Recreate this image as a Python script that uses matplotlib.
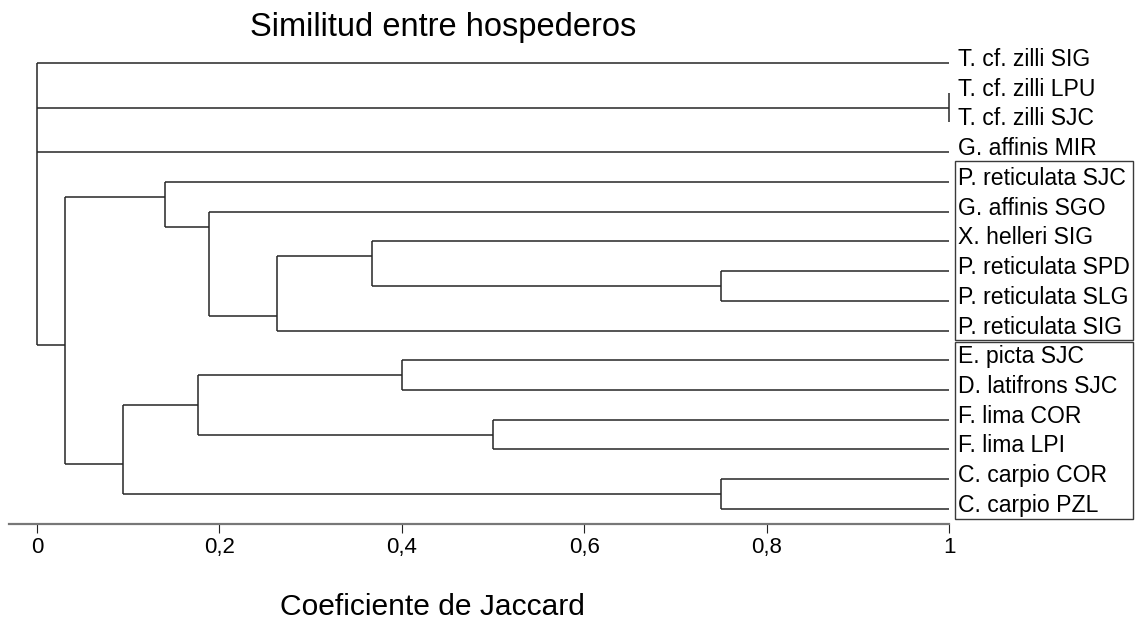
import matplotlib.pyplot as plt
from matplotlib.patches import Rectangle

plt.rcParams['font.family'] = ['Liberation Sans', 'DejaVu Sans']

# leaves, top to bottom
leaves = ['T. cf. zilli SIG', 'T. cf. zilli LPU', 'T. cf. zilli SJC', 'G. affinis MIR',
          'P. reticulata SJC', 'G. affinis SGO', 'X. helleri SIG', 'P. reticulata SPD',
          'P. reticulata SLG', 'P. reticulata SIG', 'E. picta SJC', 'D. latifrons SJC',
          'F. lima COR', 'F. lima LPI', 'C. carpio COR', 'C. carpio PZL']

# merges: (children ids, Jaccard similarity); leaves are 0..15, merges get 16, 17, ...
merges = [
    ((1, 2), 1.0),           # 16
    ((7, 8), 0.75),          # 17
    ((6, 17), 0.367),        # 18
    ((18, 9), 0.263),        # 19
    ((5, 19), 0.189),        # 20
    ((4, 20), 0.140),        # 21
    ((10, 11), 0.40),        # 22
    ((12, 13), 0.50),        # 23
    ((22, 23), 0.177),       # 24
    ((14, 15), 0.75),        # 25
    ((24, 25), 0.094),       # 26
    ((21, 26), 0.031),       # 27
    ((0, 16, 3, 27), 0.0),   # 28 root
]

# boxed groups (first leaf, last leaf)
groups = [(4, 9), (10, 15)]

xticks = [0, 0.2, 0.4, 0.6, 0.8, 1]
xticklabels = ['0', '0,2', '0,4', '0,6', '0,8', '1']

W, H = 1135, 619
x0_px, x1_px = 37, 949      # pixel of similarity 0 and 1
y0_px, step = 63, 29.73     # pixel of first leaf, leaf spacing
axis_px = 523.5
scale = x1_px - x0_px

fig = plt.figure(figsize=(W / 100, H / 100), dpi=100)
ax = fig.add_axes([9 / W, (H - axis_px) / H, (x1_px - 9) / W, (axis_px - 40) / H])
ax.set_xlim((9 - x0_px) / scale, 1.0)
ax.set_ylim((axis_px - y0_px) / step, (40 - y0_px) / step)

# node positions
xs, ys, span = {}, {}, {}
for i in range(len(leaves)):
    xs[i], ys[i], span[i] = 1.0, float(i), (i, i)

line_kw = dict(color='#262626', lw=1.1, clip_on=False, solid_capstyle='butt')
for k, (children, sim) in enumerate(merges):
    nid = len(leaves) + k
    cy = [ys[c] for c in children]
    ax.plot([sim, sim], [min(cy), max(cy)], **line_kw)
    for c in children:
        ax.plot([sim, xs[c]], [ys[c], ys[c]], **line_kw)
    xs[nid] = sim
    span[nid] = (span[children[0]][0], span[children[-1]][1])
    ys[nid] = (span[children[0]][1] + span[children[1]][0]) / 2

for i, name in enumerate(leaves):
    ax.annotate(name, xy=(1.0, i), xytext=(9, -3), textcoords='offset pixels',
                ha='left', va='baseline', fontsize=16.6, annotation_clip=False)

for first, last in groups:
    top, bottom = first - 0.62, last + 0.33
    if first == groups[0][0]:
        top = first - 0.7
    ax.add_patch(Rectangle((1 + 6 / scale, top), 178 / scale, bottom - top,
                           fill=False, edgecolor='#3a3a3a', lw=1.0, clip_on=False))

for s in ['top', 'left', 'right']:
    ax.spines[s].set_visible(False)
ax.spines['bottom'].set_color('#777777')
ax.spines['bottom'].set_linewidth(1.6)
ax.set_yticks([])
ax.set_xticks(xticks)
ax.set_xticklabels(xticklabels)
ax.tick_params(axis='x', length=6.5, width=0.8, color='#222222', labelsize=16, pad=3)

fig.text(443 / W, 1 - 36 / H, 'Similitud entre hospederos', ha='center', va='baseline', fontsize=23.5)
fig.text(432 / W, 1 - 615 / H, 'Coeficiente de Jaccard', ha='center', va='baseline', fontsize=21.6)

fig.savefig('out.png', dpi=100)
